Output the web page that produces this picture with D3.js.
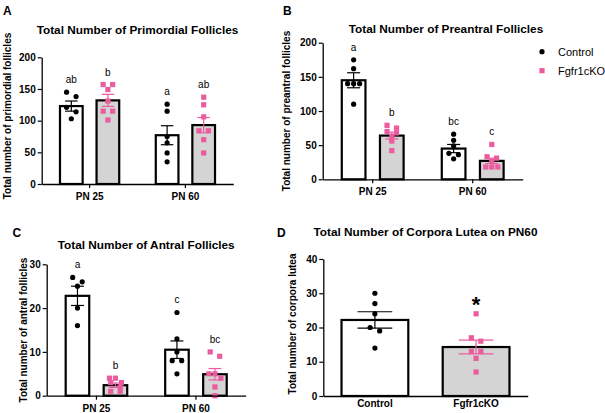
<!DOCTYPE html>
<html><head><meta charset="utf-8">
<script src="https://cdn.jsdelivr.net/npm/d3@7"></script>
<style>body{margin:0;background:#fff}</style>
</head><body>
<script>
// ---------- data ----------
const groups = ["PN 25", "PN 60"];
const genotypes = ["Control", "Fgfr1cKO"];
// cell order: PN25 Control, PN25 Fgfr1cKO, PN60 Control, PN60 Fgfr1cKO

// A: primordial
const primordialTicks = [0, 50, 100, 150, 200];
const primordialMean = [123, 132, 77, 93];
const primordialSem = [8, 9.5, 15, 12];
const primordialPoints = [[145, 138, 121, 114, 103], [157, 157, 149, 131, 115, 115, 101], [126, 115, 75, 65, 49, 35], [137, 125, 106, 84, 84, 70, 49]];
const primordialLetters = ["ab", "b", "a", "ab"];

// B: preantral
const preantralTicks = [0, 50, 100, 150, 200];
const preantralMean = [145, 64, 45, 27];
const preantralSem = [11, 5, 6, 4];
const preantralPoints = [[175, 162, 140, 140, 140, 110], [79, 75, 70, 68, 63, 56, 42], [66, 57, 49, 38, 36, 30], [51, 33, 31, 26, 18, 18, 18]];
const preantralLetters = ["a", "b", "bc", "c"];

// C: antral
const antralTicks = [0, 10, 20, 30];
const antralMean = [22.8, 2.4, 10.5, 4.9];
const antralSem = [2.2, 0.5, 2.0, 1.3];
const antralPoints = [[27, 26, 25, 20, 16], [4, 4, 3, 3, 2, 1, 1], [19, 13, 10, 8, 8, 5], [10, 9, 5, 5, 4, 2, 0]];
const antralLetters = ["a", "b", "c", "bc"];

// D: corpora lutea
const clTicks = [0, 10, 20, 30, 40];
const clMean = [22.2, 14.3];
const clSem = [2.4, 2.0];
const clPoints = [[30, 27, 24, 20, 19, 14], [24, 17, 16, 13, 13, 11, 7]];
const clMarks = ["", "*"];

// ---------- drawing ----------
const W = 605, H = 413;
const FONT = "'Liberation Sans', Arial, Helvetica, sans-serif";
const PINK = "#eb5c9f";
const colors = { "Control": "#000", "Fgfr1cKO": PINK };
const fills = { "Control": "#fff", "Fgfr1cKO": "#d4d4d4" };

const svg = d3.select("body").append("svg").attr("width", W).attr("height", H)
  .style("font-family", FONT);

function swarmOffsets(vals, y) {
  const idx = vals.map((v, i) => i).sort((a, b) => vals[b] - vals[a]);
  const out = new Array(vals.length).fill(0);
  let row = [];
  const flush = () => {
    const sp = row.length >= 3 ? 6 : 9.5;
    row.forEach((k, j) => out[k] = (j - (row.length - 1) / 2) * sp);
    row = [];
  };
  idx.forEach(k => {
    if (row.length && (Math.abs(y(vals[k]) - y(vals[row[0]])) > 4.5 || row.length >= 3)) flush();
    row.push(k);
  });
  flush();
  return out;
}

function styleAxis(sel) {
  sel.selectAll("path.domain").attr("stroke", "#000").attr("stroke-width", 1.3);
  sel.selectAll(".tick line").attr("stroke", "#000").attr("stroke-width", 1.2);
  sel.selectAll(".tick text").attr("fill", "#000").style("font-size", "10px")
    .style("font-weight", "bold").style("font-family", FONT);
}

function drawCells(g, cells, y, capFrac, markFont, markOffset, markWeight) {
  cells.forEach(c => {
    g.append("rect").attr("x", c.x).attr("width", c.w)
      .attr("y", y(c.mean)).attr("height", y(0) - y(c.mean))
      .attr("fill", fills[c.geno]).attr("stroke", "#000").attr("stroke-width", 2.2);
  });
  cells.forEach(c => {
    const cx = c.x + c.w / 2, cw = c.w * capFrac, col = colors[c.geno];
    const e = g.append("g").attr("stroke", col).attr("stroke-width", 1.2);
    e.append("line").attr("x1", cx).attr("x2", cx).attr("y1", y(c.mean - c.sem)).attr("y2", y(c.mean + c.sem));
    [c.mean - c.sem, c.mean + c.sem].forEach(v =>
      e.append("line").attr("x1", cx - cw / 2).attr("x2", cx + cw / 2).attr("y1", y(v)).attr("y2", y(v)));
  });
  cells.forEach(c => {
    const cx = c.x + c.w / 2;
    const offs = swarmOffsets(c.points, y);
    c.points.forEach((v, i) => {
      if (c.geno === "Control") {
        g.append("circle").attr("cx", cx + offs[i]).attr("cy", y(v)).attr("r", 2.6).attr("fill", "#000");
      } else {
        g.append("rect").attr("x", cx + offs[i] - 2.6).attr("y", y(v) - 2.6)
          .attr("width", 5.2).attr("height", 5.2).attr("fill", PINK);
      }
    });
    if (c.mark) {
      g.append("text").attr("x", cx).attr("y", y(d3.max(c.points)) - markOffset)
        .attr("text-anchor", "middle").style("font-size", markFont + "px")
        .style("font-weight", markWeight).text(c.mark);
    }
  });
}

function groupedPanel(o) {
  const g = svg.append("g");
  const y = d3.scaleLinear().domain([0, d3.max(o.ticks)]).range([o.yb, o.yt]);
  const x0 = d3.scaleBand().domain(groups).range([o.xl, o.xr]);
  const x1 = d3.scaleBand().domain(genotypes).range([0, x0.bandwidth()]).paddingInner(0.38).paddingOuter(0.5);
  const cells = [];
  groups.forEach((gr, gi) => genotypes.forEach((ge, si) => {
    const k = gi * 2 + si;
    cells.push({ geno: ge, x: x0(gr) + x1(ge), w: x1.bandwidth(), mean: o.mean[k], sem: o.sem[k], points: o.points[k], mark: o.letters[k] });
  }));
  drawCells(g, cells, y, 0.55, 10, 9, "normal");
  g.append("g").attr("transform", `translate(${o.xl},0)`)
    .call(d3.axisLeft(y).tickValues(o.ticks).tickFormat(d3.format("d")).tickSize(4).tickSizeOuter(0).tickPadding(2))
    .call(styleAxis);
  g.append("g").attr("transform", `translate(0,${o.yb})`)
    .call(d3.axisBottom(x0).tickSize(4).tickSizeOuter(0).tickPadding(5))
    .call(styleAxis);
  g.append("text").attr("x", o.titleX ?? (o.xl + o.xr) / 2).attr("y", o.titleY).attr("text-anchor", "middle")
    .style("font-size", "11.8px").style("font-weight", "bold").text(o.title);
  g.append("text").attr("transform", `translate(${o.labX},${o.labY}) rotate(-90)`).attr("dy", "0.35em")
    .attr("text-anchor", "middle").style("font-size", "10px").style("font-weight", "bold").text(o.ylabel);
  g.append("text").attr("x", o.letX).attr("y", o.letY).style("font-size", "12px").style("font-weight", "bold").text(o.letter);
  return g;
}

groupedPanel({ xl: 41.7, xr: 233.3, yb: 184, yt: 57.3, ticks: primordialTicks, mean: primordialMean, sem: primordialSem,
  points: primordialPoints, letters: primordialLetters, title: "Total Number of Primordial Follicles", titleY: 34,
  ylabel: "Total number of primordial follicles", labX: 7.5, labY: 116, letter: "A", letX: 3, letY: 14.5 });

groupedPanel({ xl: 322.7, xr: 522.7, yb: 179.3, yt: 42.7, ticks: preantralTicks, mean: preantralMean, sem: preantralSem,
  points: preantralPoints, letters: preantralLetters, title: "Total Number of Preantral Follicles", titleX: 446, titleY: 33,
  ylabel: "Total number of preantral follicles", labX: 286, labY: 111, letter: "B", letX: 283, letY: 14.5 });

groupedPanel({ xl: 46.7, xr: 245.7, yb: 395.7, yt: 264.3, ticks: antralTicks, mean: antralMean, sem: antralSem,
  points: antralPoints, letters: antralLetters, title: "Total Number of Antral Follicles", titleY: 248.5,
  ylabel: "Total number of antral follicles", labX: 23.7, labY: 330, letter: "C", letX: 12.5, letY: 236.7 });

// Legend (panel B)
const leg = svg.append("g");
genotypes.forEach((ge, i) => {
  const ly = 51.7 + i * 19;
  if (ge === "Control") leg.append("circle").attr("cx", 542).attr("cy", ly).attr("r", 2.6).attr("fill", "#000");
  else leg.append("rect").attr("x", 539.4).attr("y", ly - 2.6).attr("width", 5.2).attr("height", 5.2).attr("fill", PINK);
  leg.append("text").attr("x", 558).attr("y", ly).attr("dy", "0.36em").style("font-size", "11px").text(ge);
});

// Panel D
(function () {
  const g = svg.append("g");
  const xl = 323.3, xr = 527.7, yb = 396, yt = 259;
  const y = d3.scaleLinear().domain([0, d3.max(clTicks)]).range([yb, yt]);
  const x = d3.scaleBand().domain(genotypes).range([xl, xr]).paddingInner(0.34).paddingOuter(0.18);
  const cells = genotypes.map((ge, k) => ({ geno: ge, x: x(ge), w: x.bandwidth(), mean: clMean[k], sem: clSem[k], points: clPoints[k], mark: clMarks[k] }));
  drawCells(g, cells, y, 0.52, 22, 2, "bold");
  g.append("g").attr("transform", `translate(${xl},0)`)
    .call(d3.axisLeft(y).tickValues(clTicks).tickFormat(d3.format("d")).tickSize(4).tickSizeOuter(0).tickPadding(2))
    .call(styleAxis);
  g.append("g").attr("transform", `translate(0,${yb})`)
    .call(d3.axisBottom(x).tickSize(0).tickSizeOuter(0).tickPadding(4))
    .call(styleAxis);
  g.append("text").attr("x", (xl + xr) / 2).attr("y", 236).attr("text-anchor", "middle")
    .style("font-size", "11.8px").style("font-weight", "bold").text("Total Number of Corpora Lutea on PN60");
  g.append("text").attr("transform", `translate(292.5,324) rotate(-90)`).attr("dy", "0.35em")
    .attr("text-anchor", "middle").style("font-size", "10px").style("font-weight", "bold").text("Total number of corpora lutea");
  g.append("text").attr("x", 277).attr("y", 236.7).style("font-size", "12px").style("font-weight", "bold").text("D");
})();
</script>
</body></html>
